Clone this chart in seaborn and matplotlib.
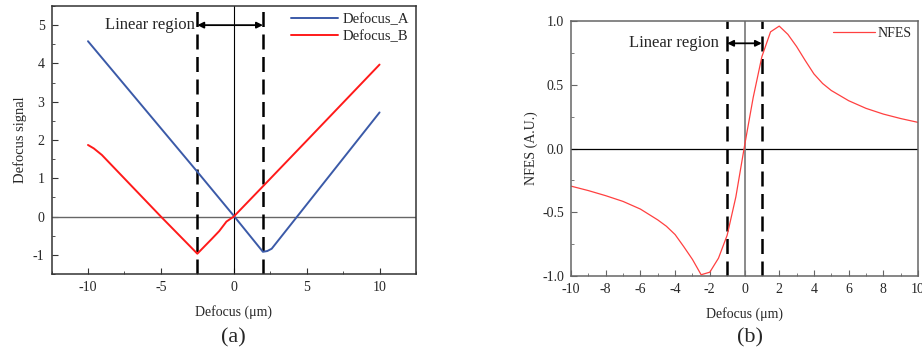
import numpy as np
import pandas as pd
import seaborn as sns
from matplotlib import pyplot as plt
from matplotlib.ticker import MultipleLocator

# (a) defocus signals
defocus_a_x = [-10, -2.5, 0, 2.0, 2.3, 2.6, 10]
defocus_a_y = [4.58, 1.17, 0.02, -0.92, -0.90, -0.84, 2.72]
defocus_b_x = [-10, -9.6, -9.05, -5.0, -2.5, -1.5, -1.0, -0.5, 0, 2, 5, 10]
defocus_b_y = [1.87, 1.78, 1.61, 0.0, -0.97, -0.58, -0.38, -0.13, 0.0, 0.79, 1.98, 3.97]

# (b) normalised focus error signal
nfes_x = [-10, -9, -8, -7, -6, -5, -4.5, -4, -3.5, -3, -2.5, -2, -1.5, -1, -0.5, 0,
          0.5, 1, 1.5, 2, 2.5, 3, 3.5, 4, 4.5, 5, 6, 7, 8, 9, 10]
nfes_y = [-0.295, -0.33, -0.37, -0.415, -0.475, -0.56, -0.61, -0.675, -0.77, -0.87, -0.99,
          -0.97, -0.86, -0.68, -0.38, 0.02, 0.40, 0.72, 0.915, 0.96, 0.895, 0.80, 0.69,
          0.585, 0.51, 0.455, 0.375, 0.315, 0.27, 0.235, 0.205]

sns.set_style('white')
plt.rcParams['font.family'] = ['Liberation Serif', 'DejaVu Serif']
plt.rcParams['axes.unicode_minus'] = False

fig = plt.figure(figsize=(9.22, 3.53), dpi=100)
ax1 = fig.add_axes([0.0559, 0.2238, 0.3953, 0.7592])
ax2 = fig.add_axes([0.6193, 0.2181, 0.3764, 0.7224])

df_a = pd.DataFrame({'x': defocus_a_x, 'y': defocus_a_y})
df_b = pd.DataFrame({'x': defocus_b_x, 'y': defocus_b_y})
df_n = pd.DataFrame({'x': nfes_x, 'y': nfes_y})

# ---- panel (a)
ax1.axhline(0, color='#666666', lw=1.0, zorder=1)
ax1.axvline(0, color='black', lw=0.8, zorder=1)
for xv in (-2.5, 2.0):
    ax1.axvline(xv, color='black', lw=1.8, dashes=(6, 3), zorder=1)
sns.lineplot(data=df_a, x='x', y='y', ax=ax1, color='#3b5aa8', lw=1.4,
             label='Defocus_A', estimator=None, sort=False)
sns.lineplot(data=df_b, x='x', y='y', ax=ax1, color='#ff1a1a', lw=1.4,
             label='Defocus_B', estimator=None, sort=False)
ax1.set_xlim(-12.5, 12.5)
ax1.set_ylim(-1.5, 5.5)
ax1.xaxis.set_major_locator(MultipleLocator(5))
ax1.xaxis.set_minor_locator(MultipleLocator(2.5))
ax1.yaxis.set_major_locator(MultipleLocator(1))
ax1.yaxis.set_minor_locator(MultipleLocator(0.5))
ax1.set_xlabel('Defocus (μm)', fontsize=10, labelpad=8)
ax1.set_ylabel('Defocus signal', fontsize=10.5, labelpad=4)
ax1.annotate('', xy=(-2.5, 5.0), xytext=(2.0, 5.0),
             arrowprops=dict(arrowstyle='<|-|>', color='black', lw=1.3,
                             mutation_scale=9, shrinkA=0, shrinkB=0))
ax1.text(-2.65, 5.0, 'Linear region', fontsize=12, ha='right', va='center')
ax1.legend(loc='upper right', frameon=False, fontsize=10.5, handlelength=3.2,
           handletextpad=0.3, borderaxespad=0.1, labelspacing=0.25)

# ---- panel (b)
ax2.axhline(0, color='black', lw=0.9, zorder=1)
ax2.axvline(0, color='#777777', lw=1.2, zorder=1)
for xv in (-1.0, 1.0):
    ax2.axvline(xv, color='black', lw=1.8, dashes=(6, 3), zorder=1)
sns.lineplot(data=df_n, x='x', y='y', ax=ax2, color='#ff4040', lw=0.9,
             label='NFES', estimator=None, sort=False)
ax2.set_xlim(-10, 10)
ax2.set_ylim(-1.0, 1.0)
ax2.xaxis.set_major_locator(MultipleLocator(2))
ax2.xaxis.set_minor_locator(MultipleLocator(1))
ax2.yaxis.set_major_locator(MultipleLocator(0.5))
ax2.yaxis.set_minor_locator(MultipleLocator(0.25))
ax2.yaxis.set_major_formatter(lambda v, p: f'{v:.1f}')
ax2.set_xlabel('Defocus (μm)', fontsize=10, labelpad=8)
ax2.set_ylabel('NFES (A.U.)', fontsize=10, labelpad=3)
ax2.annotate('', xy=(-1.0, 0.825), xytext=(1.0, 0.825),
             arrowprops=dict(arrowstyle='<|-|>', color='black', lw=1.3,
                             mutation_scale=9, shrinkA=0, shrinkB=0))
ax2.text(-1.45, 0.825, 'Linear region', fontsize=12, ha='right', va='center')
ax2.legend(loc='upper right', frameon=False, fontsize=10, handlelength=3.0,
           handletextpad=0.2, borderaxespad=0.05)

for ax, sc in ((ax1, '#333333'), (ax2, '#666666')):
    for s in ax.spines.values():
        s.set_color(sc)
        s.set_linewidth(1.1)
    ax.tick_params(which='both', direction='in', labelsize=10, bottom=True, left=True,
                   top=False, right=False, color=sc, pad=5)
    ax.tick_params(which='major', length=4)
    ax.tick_params(which='minor', length=2.5)

fig.text(0.2527, 0.042, '(a)', fontsize=16, ha='center', va='center')
fig.text(0.8134, 0.042, '(b)', fontsize=16, ha='center', va='center')

fig.savefig('out.png', dpi=100)
